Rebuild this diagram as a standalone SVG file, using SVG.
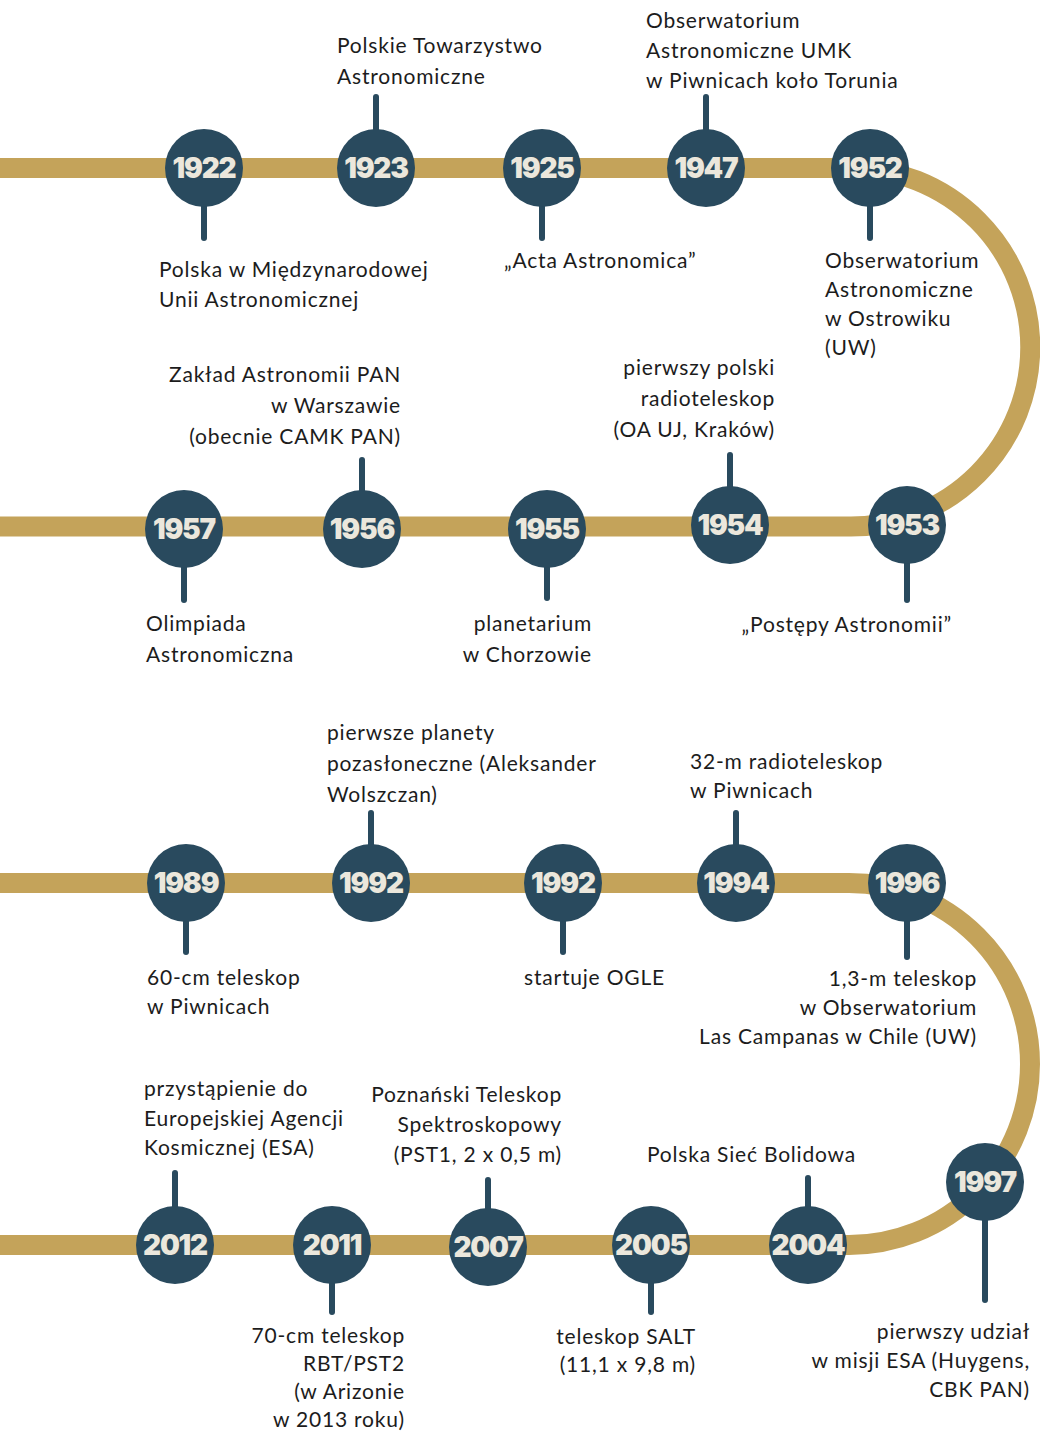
<svg xmlns="http://www.w3.org/2000/svg" width="1040" height="1432" viewBox="0 0 1040 1432">
<style>
.band{fill:none;stroke:#c4a35a;stroke-width:20}
.dot{fill:#294a5e}
.stem{stroke:#294a5e;stroke-width:6;stroke-linecap:round}
.yr{font-family:Inter,"Liberation Sans",sans-serif;font-weight:900;font-size:28px;fill:#ebe7dc;text-anchor:middle;letter-spacing:-1.2px}
.lb{font-family:Lato,"Liberation Sans",sans-serif;font-size:21px;fill:#1c1c1c;letter-spacing:0.8px}
.r{text-anchor:end}
</style>
<rect width="1040" height="1432" fill="#ffffff"/>
<g id="connectors">
<path class="band" d="M0,168 H851 A179.25,179.25 0 0 1 851,526.5 H0"/>
<path class="band" d="M0,883 H849 A181,181 0 0 1 849,1245 H0"/>
</g>
<g id="n1922"><line class="stem" x1="204" y1="168" x2="204" y2="238"/><circle class="dot" cx="204" cy="168" r="39"/><text class="yr" x="204" y="178">1922</text>
<text class="lb" x="159" y="277">Polska w Międzynarodowej</text><text class="lb" x="159" y="307">Unii Astronomicznej</text></g>
<g id="n1923"><line class="stem" x1="376" y1="97" x2="376" y2="168"/><circle class="dot" cx="376" cy="168" r="39"/><text class="yr" x="376" y="178">1923</text>
<text class="lb" x="337" y="53">Polskie Towarzystwo</text><text class="lb" x="337" y="84">Astronomiczne</text></g>
<g id="n1925"><line class="stem" x1="542" y1="168" x2="542" y2="238"/><circle class="dot" cx="542" cy="168" r="39"/><text class="yr" x="542" y="178">1925</text>
<text class="lb" x="504" y="268">„Acta Astronomica”</text></g>
<g id="n1947"><line class="stem" x1="706" y1="97" x2="706" y2="168"/><circle class="dot" cx="706" cy="168" r="39"/><text class="yr" x="706" y="178">1947</text>
<text class="lb" x="646" y="28">Obserwatorium</text><text class="lb" x="646" y="58">Astronomiczne UMK</text><text class="lb" x="646" y="88">w Piwnicach koło Torunia</text></g>
<g id="n1952"><line class="stem" x1="870" y1="168" x2="870" y2="238"/><circle class="dot" cx="870" cy="168" r="39"/><text class="yr" x="870" y="178">1952</text>
<text class="lb" x="825" y="268">Obserwatorium</text><text class="lb" x="825" y="297">Astronomiczne</text><text class="lb" x="825" y="326">w Ostrowiku</text><text class="lb" x="825" y="355">(UW)</text></g>
<g id="n1957"><line class="stem" x1="184" y1="529" x2="184" y2="600"/><circle class="dot" cx="184" cy="529" r="39"/><text class="yr" x="184" y="539">1957</text>
<text class="lb" x="146" y="631">Olimpiada</text><text class="lb" x="146" y="662">Astronomiczna</text></g>
<g id="n1956"><line class="stem" x1="362" y1="460" x2="362" y2="529"/><circle class="dot" cx="362" cy="529" r="39"/><text class="yr" x="362" y="539">1956</text>
<text class="lb r" x="401" y="382">Zakład Astronomii PAN</text><text class="lb r" x="401" y="413">w Warszawie</text><text class="lb r" x="401" y="444">(obecnie CAMK PAN)</text></g>
<g id="n1955"><line class="stem" x1="547" y1="529" x2="547" y2="598"/><circle class="dot" cx="547" cy="529" r="39"/><text class="yr" x="547" y="539">1955</text>
<text class="lb r" x="592" y="631">planetarium</text><text class="lb r" x="592" y="662">w Chorzowie</text></g>
<g id="n1954"><line class="stem" x1="730" y1="455" x2="730" y2="525"/><circle class="dot" cx="730" cy="525" r="39"/><text class="yr" x="730" y="535">1954</text>
<text class="lb r" x="775" y="375">pierwszy polski</text><text class="lb r" x="775" y="406">radioteleskop</text><text class="lb r" x="775" y="437">(OA UJ, Kraków)</text></g>
<g id="n1953"><line class="stem" x1="907" y1="525" x2="907" y2="600"/><circle class="dot" cx="907" cy="525" r="39"/><text class="yr" x="907" y="535">1953</text>
<text class="lb r" x="952" y="632">„Postępy Astronomii”</text></g>
<g id="n1989"><line class="stem" x1="186" y1="883" x2="186" y2="952"/><circle class="dot" cx="186" cy="883" r="39"/><text class="yr" x="186" y="893">1989</text>
<text class="lb" x="147" y="985">60-cm teleskop</text><text class="lb" x="147" y="1014">w Piwnicach</text></g>
<g id="n1992a"><line class="stem" x1="371" y1="813" x2="371" y2="883"/><circle class="dot" cx="371" cy="883" r="39"/><text class="yr" x="371" y="893">1992</text>
<text class="lb" x="327" y="740">pierwsze planety</text><text class="lb" x="327" y="771">pozasłoneczne (Aleksander</text><text class="lb" x="327" y="802">Wolszczan)</text></g>
<g id="n1992b"><line class="stem" x1="563" y1="883" x2="563" y2="952"/><circle class="dot" cx="563" cy="883" r="39"/><text class="yr" x="563" y="893">1992</text>
<text class="lb" x="524" y="985">startuje OGLE</text></g>
<g id="n1994"><line class="stem" x1="736" y1="813" x2="736" y2="883"/><circle class="dot" cx="736" cy="883" r="39"/><text class="yr" x="736" y="893">1994</text>
<text class="lb" x="690" y="769">32-m radioteleskop</text><text class="lb" x="690" y="798">w Piwnicach</text></g>
<g id="n1996"><line class="stem" x1="907" y1="883" x2="907" y2="957"/><circle class="dot" cx="907" cy="883" r="39"/><text class="yr" x="907" y="893">1996</text>
<text class="lb r" x="977" y="986">1,3-m teleskop</text><text class="lb r" x="977" y="1015">w Obserwatorium</text><text class="lb r" x="977" y="1044">Las Campanas w Chile (UW)</text></g>
<g id="n1997"><line class="stem" x1="985" y1="1182" x2="985" y2="1300"/><circle class="dot" cx="985" cy="1182" r="39"/><text class="yr" x="985" y="1192">1997</text>
<text class="lb r" x="1030" y="1339">pierwszy udział</text><text class="lb r" x="1030" y="1368">w misji ESA (Huygens,</text><text class="lb r" x="1030" y="1397">CBK PAN)</text></g>
<g id="n2004"><line class="stem" x1="808" y1="1178" x2="808" y2="1245"/><circle class="dot" cx="808" cy="1245" r="39"/><text class="yr" x="808" y="1255">2004</text>
<text class="lb" x="647" y="1162">Polska Sieć Bolidowa</text></g>
<g id="n2005"><line class="stem" x1="651" y1="1245" x2="651" y2="1312"/><circle class="dot" cx="651" cy="1245" r="39"/><text class="yr" x="651" y="1255">2005</text>
<text class="lb r" x="696" y="1344">teleskop SALT</text><text class="lb r" x="696" y="1372">(11,1 x 9,8 m)</text></g>
<g id="n2007"><line class="stem" x1="488" y1="1180" x2="488" y2="1247"/><circle class="dot" cx="488" cy="1247" r="39"/><text class="yr" x="488" y="1257">2007</text>
<text class="lb r" x="562" y="1102">Poznański Teleskop</text><text class="lb r" x="562" y="1132">Spektroskopowy</text><text class="lb r" x="562" y="1162">(PST1, 2 x 0,5 m)</text></g>
<g id="n2011"><line class="stem" x1="332" y1="1245" x2="332" y2="1312"/><circle class="dot" cx="332" cy="1245" r="39"/><text class="yr" x="332" y="1255">2011</text>
<text class="lb r" x="405" y="1343">70-cm teleskop</text><text class="lb r" x="405" y="1371">RBT/PST2</text><text class="lb r" x="405" y="1399">(w Arizonie</text><text class="lb r" x="405" y="1427">w 2013 roku)</text></g>
<g id="n2012"><line class="stem" x1="175" y1="1173" x2="175" y2="1245"/><circle class="dot" cx="175" cy="1245" r="39"/><text class="yr" x="175" y="1255">2012</text>
<text class="lb" x="144" y="1096">przystąpienie do</text><text class="lb" x="144" y="1126">Europejskiej Agencji</text><text class="lb" x="144" y="1155">Kosmicznej (ESA)</text></g>
</svg>
